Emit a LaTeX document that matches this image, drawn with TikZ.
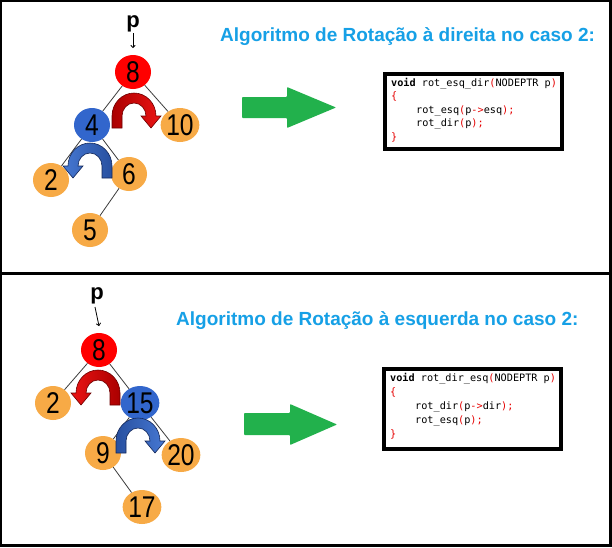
\documentclass[tikz,border=0pt]{standalone}
\usepackage{fontspec}
\setmainfont{Liberation Sans}
\newfontfamily\numfont[FakeStretch=0.82]{Liberation Sans}
\newfontfamily\codefont{DejaVu Sans Mono}
\usetikzlibrary{shapes.geometric,arrows.meta}
\definecolor{nodeorange}{RGB}{247,170,70}
\definecolor{nodered}{RGB}{255,0,0}
\definecolor{nodeblue}{RGB}{50,102,204}
\definecolor{titleblue}{RGB}{22,160,230}
\definecolor{arrowgreen}{RGB}{34,177,76}
\definecolor{codered}{RGB}{230,0,0}
\definecolor{edgegray}{RGB}{60,60,60}
\definecolor{arrdarkred}{RGB}{170,0,0}
\definecolor{arrred}{RGB}{235,20,20}
\definecolor{arrredborder}{RGB}{110,0,0}
\definecolor{arrdarkblue}{RGB}{40,80,160}
\definecolor{arrblue}{RGB}{70,120,210}
\definecolor{arrblueborder}{RGB}{20,40,90}
\newcommand\redc[1]{\textcolor{codered}{#1}}
% curved rotation arrow: #1 centre, #2 direction (1 right, -1 left), #3 left colour, #4 right colour, #5 border
\newcommand\rotarrow[5]{%
\begin{scope}[shift={#1}]
\draw[line width=0.6pt, draw=#5, left color=#3, right color=#4]
 ({#2*(-22)},12) -- ({#2*(-22)},0)
 .. controls ({#2*(-22)},-12.7) and ({#2*(-12.1)},-23) .. (0,-23)
 .. controls ({#2*12.1},-23) and ({#2*22},-12.7) .. ({#2*22},0)
 -- ({#2*27},0) -- ({#2*17},12) -- ({#2*7},0) -- ({#2*12},0)
 .. controls ({#2*12},-7.2) and ({#2*6.6},-13) .. (0,-13)
 .. controls ({#2*(-6.6)},-13) and ({#2*(-12)},-7.2) .. ({#2*(-12)},0)
 -- ({#2*(-12)},12) -- cycle;
\end{scope}}
\tikzset{
 tnode/.style={ellipse, minimum width=36pt, minimum height=34pt, inner sep=0pt,
   font=\numfont\fontsize{30}{30}\selectfont},
 orangenode/.style={tnode, fill=nodeorange},
 rednode/.style={tnode, fill=nodered},
 bluenode/.style={tnode, fill=nodeblue},
 treeedge/.style={draw=edgegray, line width=0.8pt},
 title/.style={anchor=base west, inner sep=0pt, text=titleblue,
   font=\bfseries\fontsize{19}{19}\selectfont},
 plabel/.style={anchor=base, inner sep=0pt, font=\bfseries\fontsize{22}{22}\selectfont},
 parrow/.style={-{To[length=3pt,width=5pt]}, line width=0.8pt},
 codeline/.style={anchor=base west, inner sep=0pt, font=\codefont\fontsize{10.2}{10.5}\selectfont},
 codebox/.style={draw=black, line width=4pt, fill=white},
 bigarrow/.style={fill=arrowgreen, rounded corners=0.8pt},
 frame/.style={draw=black, line width=3pt}
}
\begin{document}
\begin{tikzpicture}[x=1pt,y=-1pt]
\useasboundingbox (0,0) rectangle (612,547);
\fill[white] (0,0) rectangle (612,547);
% frame and divider
\draw[frame] (0,0) rectangle (610.5,545.5);
\draw[frame] (0,273.5) -- (610.5,273.5);

% ---------- top half ----------
\node[title] (title1) at (220,41) {Algoritmo de Rotação à direita no caso 2:};
\node[plabel] (tp) at (133,27) {p};
\coordinate (tpstart) at (133,33);
\coordinate (tpend) at (133,48);
\draw[parrow] (tpstart) -- (tpend);

\node[rednode] (t8) at (133,72) {8};
\node[bluenode] (t4) at (92,125) {4};
\node[orangenode] (t10) at (180,125) {10};
\node[orangenode] (t2) at (51,180) {2};
\node[orangenode] (t6) at (129,174) {6};
\node[orangenode] (t5) at (90,230) {5};
\draw[treeedge] (t8) -- (t4);
\draw[treeedge] (t8) -- (t10);
\draw[treeedge] (t4) -- (t2);
\draw[treeedge] (t4) -- (t6);
\draw[treeedge] (t6) -- (t5);
\rotarrow{(134,116)}{1}{arrdarkred}{arrred}{arrredborder}
\rotarrow{(90,166)}{-1}{arrblue}{arrdarkblue}{arrblueborder}

\fill[bigarrow] (242,97) -- (287,97) -- (287,87) -- (336,107.5) -- (287,128) -- (287,118) -- (242,118) -- cycle;

\draw[codebox] (385,74) rectangle (562,149);
\node[codeline] (c1a) at (391,86) {{\bfseries void} rot\_esq\_dir\redc{(}NODEPTR p\redc{)}};
\node[codeline] (c1b) at (391,99.5) {\redc{\{}};
\node[codeline] (c1c) at (416,113) {rot\_esq\redc{(}p\redc{->}esq\redc{);}};
\node[codeline] (c1d) at (416,126.5) {rot\_dir\redc{(}p\redc{);}};
\node[codeline] (c1e) at (391,140) {\redc{\}}};

% ---------- bottom half ----------
\node[title] (title2) at (176,325) {Algoritmo de Rotação à esquerda no caso 2:};
\node[plabel] (bp) at (97,299) {p};
\coordinate (bpstart) at (95,307);
\coordinate (bpend) at (99,326);
\draw[parrow] (bpstart) -- (bpend);

\node[rednode] (b8) at (99,350) {8};
\node[orangenode] (b2) at (53,403) {2};
\node[bluenode] (b15) at (140,403) {15};
\node[orangenode] (b9) at (103,453) {9};
\node[orangenode] (b20) at (181,455) {20};
\node[orangenode] (b17) at (142,507) {17};
\draw[treeedge] (b8) -- (b2);
\draw[treeedge] (b8) -- (b15);
\draw[treeedge] (b15) -- (b9);
\draw[treeedge] (b15) -- (b20);
\draw[treeedge] (b9) -- (b17);
\rotarrow{(98,393)}{-1}{arrred}{arrdarkred}{arrredborder}
\rotarrow{(138,441)}{1}{arrdarkblue}{arrblue}{arrblueborder}

\fill[bigarrow] (244,413) -- (290,413) -- (290,404) -- (337,424.5) -- (290,445) -- (290,435) -- (244,435) -- cycle;

\draw[codebox] (384,369) rectangle (561,449);
\node[codeline] (c2a) at (390,381.5) {{\bfseries void} rot\_dir\_esq\redc{(}NODEPTR p\redc{)}};
\node[codeline] (c2b) at (390,395.5) {\redc{\{}};
\node[codeline] (c2c) at (415,409.5) {rot\_dir\redc{(}p\redc{->}dir\redc{);}};
\node[codeline] (c2d) at (415,423) {rot\_esq\redc{(}p\redc{);}};
\node[codeline] (c2e) at (390,437) {\redc{\}}};
\end{tikzpicture}
\end{document}
